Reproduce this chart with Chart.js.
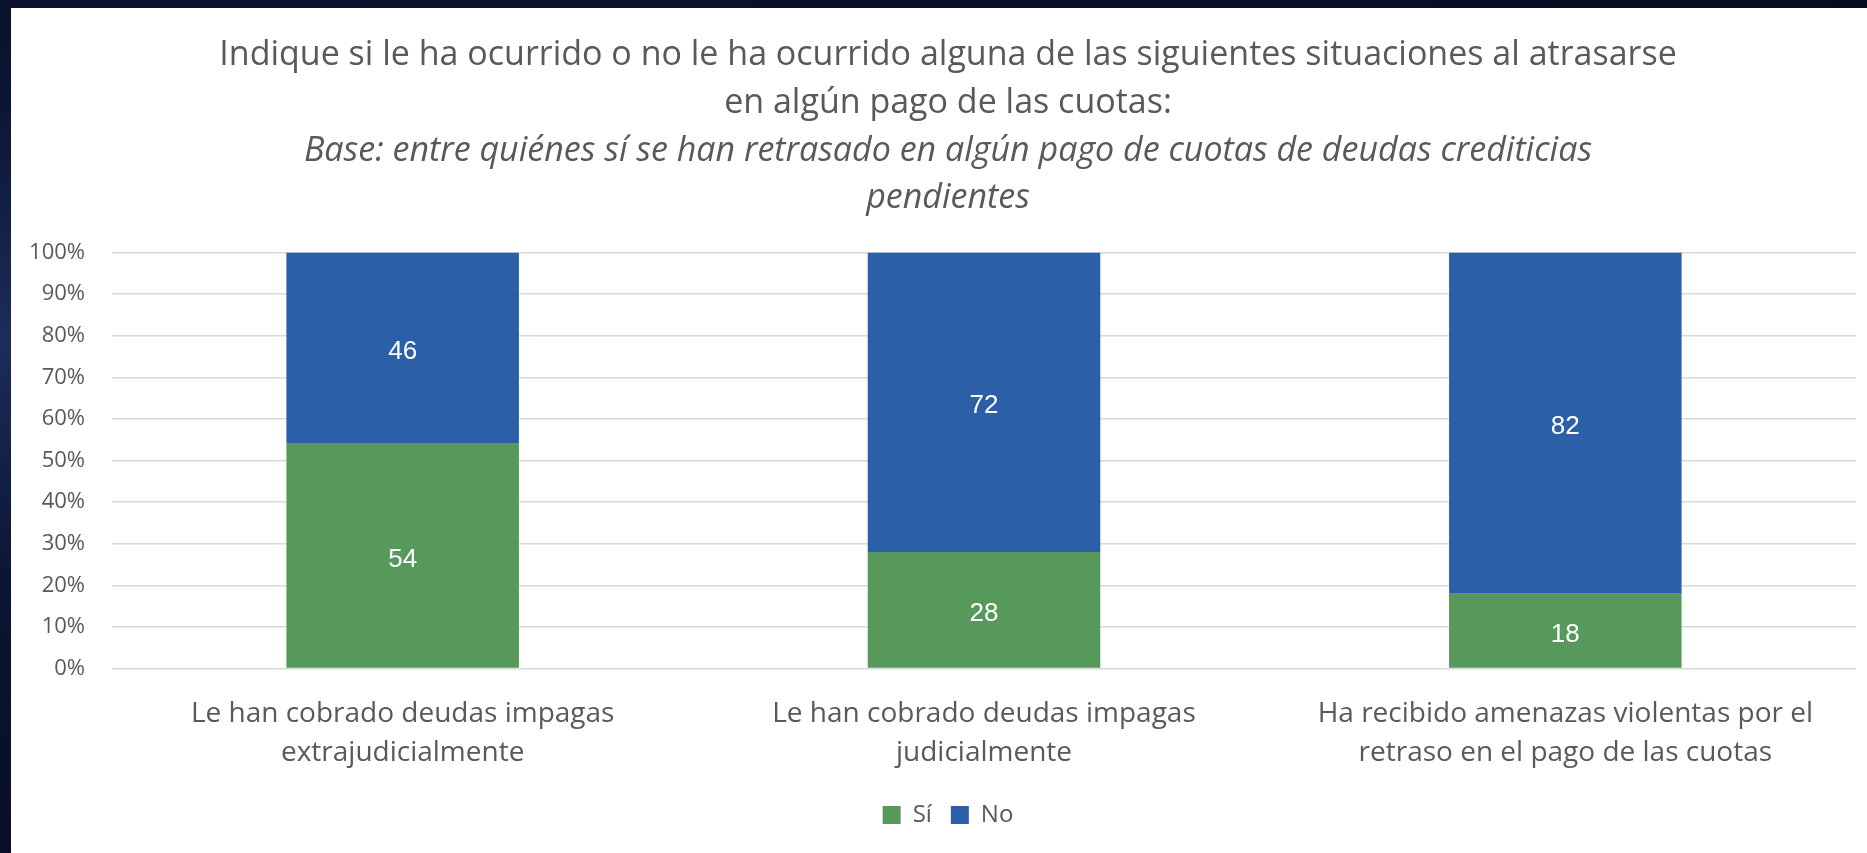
<!DOCTYPE html>
<html>
<head>
<meta charset="utf-8">
<script src="https://cdn.jsdelivr.net/npm/chart.js@4/dist/chart.umd.min.js"></script>
<style>
  html, body { margin: 0; padding: 0; width: 1867px; height: 853px; overflow: hidden; }
  body { background: radial-gradient(ellipse at 0% 40%, #1c2c5a 0%, #0b1431 35%, #060a1c 100%); position: relative; }
  #card { position: absolute; left: 11px; top: 8px; width: 1856px; height: 845px; background: #ffffff; }
  canvas { display: block; }
</style>
</head>
<body>
<div id="card"><canvas id="c" width="1856" height="845"></canvas></div>
<script>
const categories = [
  ["Le han cobrado deudas impagas", "extrajudicialmente"],
  ["Le han cobrado deudas impagas", "judicialmente"],
  ["Ha recibido amenazas violentas por el", "retraso en el pago de las cuotas"]
];
const siValues = [54, 28, 18];
const noValues = [46, 72, 82];
const seriesNames = ["Sí", "No"];
const titleLines = [
  "Indique si le ha ocurrido o no le ha ocurrido alguna de las siguientes situaciones al atrasarse",
  "en algún pago de las cuotas:"
];
const subtitleLines = [
  "Base: entre quiénes sí se han retrasado en algún pago de cuotas de deudas crediticias",
  "pendientes"
];

const FONT = "'Open Sans', 'DejaVu Sans', sans-serif";
const TEXT = "#595959";

const barLabels = {
  id: 'barLabels',
  afterDatasetsDraw(chart) {
    const ctx = chart.ctx;
    ctx.save();
    ctx.fillStyle = '#ffffff';
    ctx.font = "26px 'Liberation Sans', Arial, sans-serif";
    ctx.textAlign = 'center';
    ctx.textBaseline = 'middle';
    chart.data.datasets.forEach((ds, di) => {
      const meta = chart.getDatasetMeta(di);
      meta.data.forEach((el, i) => {
        const p = el.getProps(['x', 'y', 'base'], true);
        ctx.fillText(String(ds.data[i]), p.x, (p.y + p.base) / 2 + 4);
      });
    });
    ctx.restore();
  }
};

new Chart(document.getElementById('c'), {
  type: 'bar',
  data: {
    labels: categories,
    datasets: [
      { label: seriesNames[0], data: siValues, backgroundColor: '#56995b', borderWidth: 0 },
      { label: seriesNames[1], data: noValues, backgroundColor: '#2b60a8', borderWidth: 0 }
    ]
  },
  options: {
    responsive: false,
    animation: false,
    devicePixelRatio: 1,
    layout: { padding: { left: 29, right: 11, top: 20, bottom: 16 } },
    datasets: { bar: { categoryPercentage: 0.8, barPercentage: 0.5 } },
    scales: {
      x: {
        stacked: true,
        grid: { display: false, drawTicks: false },
        border: { display: false },
        afterFit: s => { s.height -= 15; },
        ticks: { color: TEXT, font: { family: FONT, size: 28, lineHeight: 1.4 }, padding: 26, maxRotation: 0, autoSkip: false }
      },
      y: {
        stacked: true,
        min: 0, max: 100,
        grid: { color: '#d9d9d9', lineWidth: 1.5, drawTicks: false },
        border: { display: false },
        afterFit: s => { s.width = 72; s._computeLabelArea = () => undefined; },
        ticks: { stepSize: 10, color: TEXT, font: { family: FONT, size: 22 }, padding: 27, callback: v => v + '%' }
      }
    },
    plugins: {
      title: { display: true, text: titleLines, color: TEXT, font: { family: FONT, size: 34, weight: 'normal', lineHeight: 1.4 }, padding: { top: 4, bottom: 0 } },
      subtitle: { display: true, text: subtitleLines, color: TEXT, font: { family: FONT, size: 34, style: 'italic', weight: 'normal', lineHeight: 1.4 }, padding: { top: 0, bottom: 30 } },
      legend: {
        position: 'bottom',
        labels: { color: TEXT, font: { family: FONT, size: 24 }, boxWidth: 18, boxHeight: 18, padding: 19 }
      },
      tooltip: { enabled: false }
    }
  },
  plugins: [barLabels]
});
</script>
</body>
</html>
